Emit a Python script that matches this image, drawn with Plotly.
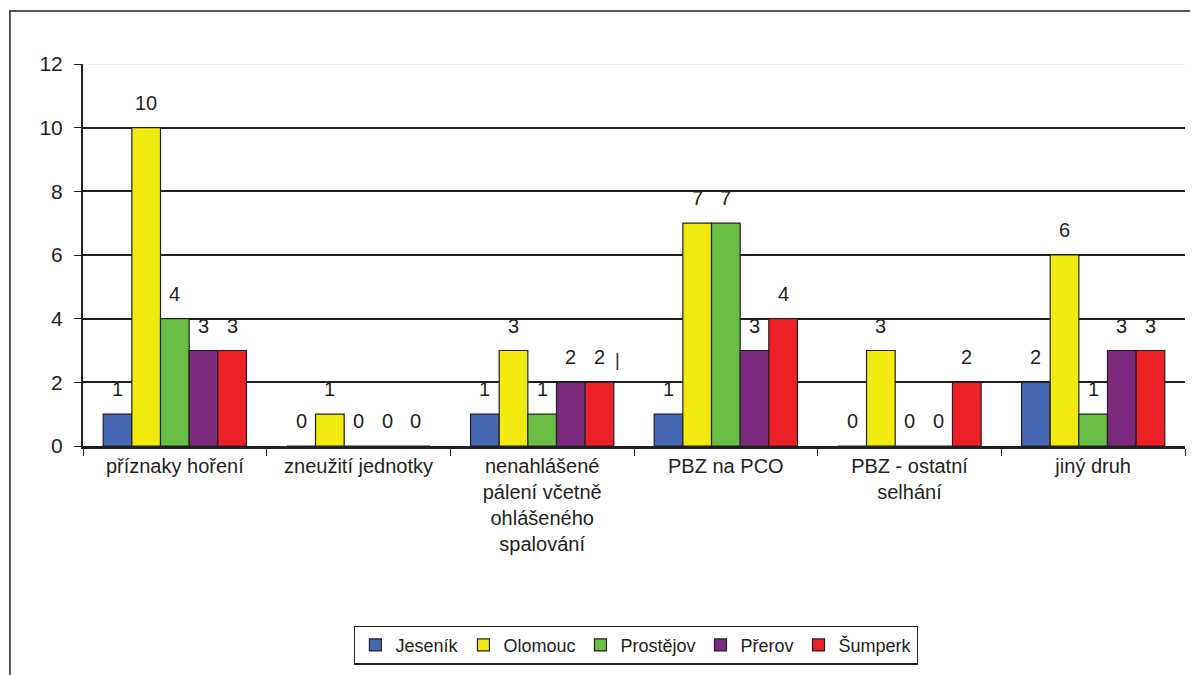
import plotly.graph_objects as go

categories = ["příznaky hoření", "zneužití jednotky",
              "nenahlášené<br>pálení včetně<br>ohlášeného<br>spalování",
              "PBZ na PCO", "PBZ - ostatní<br>selhání", "jiný druh"]
series_names = ["Jeseník", "Olomouc", "Prostějov", "Přerov", "Šumperk"]
jesenik = [1, 0, 1, 1, 0, 2]
olomouc = [10, 1, 3, 7, 3, 6]
prostejov = [4, 0, 1, 7, 0, 1]
prerov = [3, 0, 2, 3, 0, 3]
sumperk = [3, 0, 2, 4, 2, 3]
y_ticks = [0, 2, 4, 6, 8, 10, 12]

colors = ["#4566B0", "#F2EA0E", "#6BBE45", "#7B2A7E", "#EC2128"]
all_series = [jesenik, olomouc, prostejov, prerov, sumperk]

FONT = "Liberation Sans, Arial, sans-serif"
W, H = 1198, 675
ML, MR, MT, MB = 75, 21, 56, 237
BARGAP = 0.22
plot_w = W - ML - MR
bar_px = plot_w / len(categories) * (1 - BARGAP) / len(series_names)

fig = go.Figure()
for name, vals, col in zip(series_names, all_series, colors):
    fig.add_trace(go.Bar(
        name=name, x=categories, y=vals,
        marker=dict(color=col, line=dict(color="#231F20", width=1.2)),
    ))

# data labels above bars
for i, vals in enumerate(all_series):
    off = (i - (len(series_names) - 1) / 2) * bar_px
    for cat, v in zip(categories, vals):
        fig.add_annotation(x=cat, y=v, xref="x", yref="y", text=str(v),
                           showarrow=False, xshift=off, yshift=25,
                           yanchor="middle", xanchor="center",
                           font=dict(family=FONT, size=20, color="#231F20"))

fig.update_layout(
    width=W, height=H,
    margin=dict(l=ML, r=MR, t=MT, b=MB),
    paper_bgcolor="white", plot_bgcolor="white",
    barmode="group", bargap=BARGAP, bargroupgap=0,
    font=dict(family=FONT, size=20, color="#231F20"),
    showlegend=True,
    legend=dict(orientation="h", x=0.502, y=-0.521, xanchor="center", yanchor="middle",
                bordercolor="#231F20", borderwidth=1.2, bgcolor="white",
                font=dict(size=18, family=FONT), itemwidth=30, tracegroupgap=0),
)
fig.update_xaxes(showline=True, linecolor="#231F20", linewidth=2.5,
                 ticks="outside", tickson="boundaries", ticklen=7, tickcolor="#231F20",
                 tickfont=dict(size=20), showgrid=False)
fig.update_yaxes(range=[0, 12], tickvals=y_ticks, showline=True, linecolor="#231F20",
                 linewidth=2, ticks="outside", ticklen=7, tickcolor="#231F20",
                 showgrid=True, gridcolor="#231F20", gridwidth=1.5, zeroline=False,
                 tickfont=dict(size=21), ticklabelstandoff=7)
# faint top gridline at 12
fig.add_shape(type="line", xref="paper", yref="y", x0=0, x1=1, y0=12, y1=12,
              line=dict(color="#EEEEEE", width=2), layer="above")
# outer chart frame
fig.add_shape(type="rect", xref="paper", yref="paper", x0=-0.0663, x1=1.05,
              y0=-0.7, y1=1.1387, line=dict(color="#231F20", width=1.5))
# stray mark in reference
fig.add_annotation(text="|", xref="paper", yref="paper", x=(617 - 83) / 1102,
                   y=(446 - 372) / 382, showarrow=False, font=dict(size=18))
fig.write_html("out.html")
